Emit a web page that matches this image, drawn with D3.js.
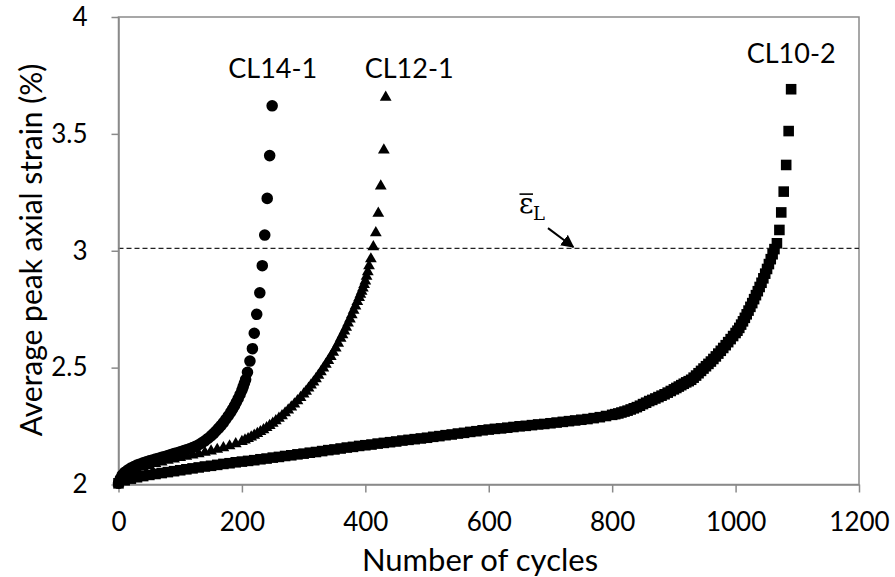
<!DOCTYPE html>
<html><head><meta charset="utf-8">
<script src="https://cdn.jsdelivr.net/npm/d3@7"></script>
<style>body{margin:0;background:#fff}</style>
</head><body>
<svg id="c" width="895" height="577"></svg>
<script>
// ---------- data ----------
const xTicks = [0, 200, 400, 600, 800, 1000, 1200];
const yTicks = [2, 2.5, 3, 3.5, 4];
const xTitle = "Number of cycles";
const yTitle = "Average peak axial strain (%)";
const thresholdValue = 3.01;

const cl14Cycles = [0,3,6,10,15,20,25,30,35,40,45,50,55,60,65,70,75,80,85,90,95,100,105,110,115,120,125,130,135,140,145,150,154,158,162,166,170,174,178,182,185,188,191,194,197,200,202,204,206,209,213,217,220,224,229,233,237,241,245,249];
const cl14Strain = [2.005,2.025,2.04,2.052,2.062,2.07,2.077,2.083,2.088,2.093,2.097,2.101,2.105,2.109,2.112,2.116,2.12,2.124,2.128,2.132,2.136,2.14,2.144,2.149,2.153,2.158,2.163,2.17,2.178,2.187,2.197,2.208,2.218,2.229,2.24,2.252,2.265,2.279,2.294,2.31,2.323,2.337,2.352,2.368,2.385,2.403,2.418,2.433,2.449,2.48,2.528,2.581,2.647,2.728,2.82,2.936,3.067,3.224,3.407,3.62];

const cl12Cycles = [0,5,10,20,30,40,50,60,70,80,90,100,110,120,130,140,150,160,170,180,190,200,205,210,215,220,225,230,235,240,245,250,255,260,265,270,275,280,285,290,295,300,304,308,312,316,320,324,328,332,336,340,344,348,352,356,360,363,366,369,372,375,378,381,384,387,390,392,394,396,398,400,402,404,406,409,413,417,421,425,430,433];
const cl12Strain = [2.005,2.025,2.038,2.052,2.063,2.073,2.081,2.089,2.096,2.103,2.109,2.115,2.12,2.126,2.131,2.137,2.143,2.15,2.157,2.165,2.174,2.184,2.19,2.196,2.203,2.21,2.218,2.226,2.234,2.243,2.252,2.262,2.272,2.283,2.294,2.306,2.318,2.331,2.344,2.358,2.372,2.387,2.399,2.412,2.425,2.438,2.452,2.467,2.482,2.498,2.514,2.53,2.547,2.565,2.584,2.604,2.625,2.64,2.656,2.672,2.69,2.708,2.726,2.745,2.763,2.782,2.8,2.813,2.826,2.84,2.855,2.87,2.89,2.91,2.935,2.965,3.017,3.077,3.16,3.277,3.431,3.656];

const cl10Cycles = [0,10,20,30,40,50,60,70,80,90,100,110,120,130,140,150,160,170,180,190,200,210,220,230,240,250,260,270,280,290,300,310,320,330,340,350,360,370,380,390,400,410,420,430,440,450,460,470,480,490,500,510,520,530,540,550,560,570,580,590,600,610,620,630,640,650,660,670,680,690,700,710,720,730,740,750,760,770,780,790,800,805,810,815,820,825,830,835,840,845,850,855,860,865,870,875,880,885,890,895,900,904,908,912,916,920,924,928,932,936,940,944,948,952,956,960,964,968,972,976,980,984,988,992,996,1000,1003,1006,1009,1012,1015,1018,1021,1024,1027,1030,1033,1036,1039,1042,1045,1048,1051,1054,1057,1060,1063,1067,1071,1074,1078,1082,1086,1090];
const cl10Strain = [2.005,2.018,2.025,2.031,2.036,2.041,2.045,2.049,2.053,2.057,2.061,2.065,2.069,2.073,2.077,2.08,2.084,2.088,2.091,2.095,2.098,2.101,2.104,2.108,2.111,2.115,2.118,2.122,2.125,2.129,2.132,2.136,2.139,2.143,2.147,2.15,2.154,2.158,2.161,2.165,2.168,2.171,2.175,2.178,2.181,2.184,2.188,2.191,2.194,2.197,2.2,2.204,2.207,2.211,2.214,2.218,2.221,2.225,2.228,2.232,2.235,2.238,2.24,2.243,2.246,2.249,2.251,2.254,2.257,2.259,2.262,2.265,2.268,2.271,2.274,2.277,2.28,2.284,2.288,2.293,2.298,2.301,2.304,2.308,2.312,2.316,2.321,2.326,2.331,2.337,2.344,2.35,2.357,2.362,2.368,2.374,2.38,2.386,2.393,2.4,2.407,2.413,2.419,2.425,2.431,2.437,2.442,2.448,2.457,2.466,2.476,2.486,2.496,2.506,2.516,2.526,2.537,2.548,2.56,2.572,2.584,2.596,2.609,2.622,2.635,2.648,2.658,2.67,2.684,2.698,2.713,2.728,2.744,2.76,2.776,2.793,2.81,2.827,2.845,2.863,2.882,2.902,2.922,2.943,2.964,2.985,3.007,3.032,3.089,3.164,3.253,3.367,3.512,3.691];

const seriesNames = ["CL14-1", "CL12-1", "CL10-2"];
const seriesMarkers = ["circle", "triangle", "square"];
const labelCycles = [250, 471, 1090];
const labelStrain = [3.739, 3.739, 3.803];

// annotation (epsilon_L with arrow), in data units
const epsLabelAt = [649, 3.161];
const arrowFrom = [696, 3.097];
const arrowTo = [737, 3.016];

// ---------- layout ----------
const M = {left: 118.5, right: 859, top: 17, bottom: 484.5};
const svg = d3.select("#c");
const x = d3.scaleLinear().domain([0, 1200]).range([M.left, M.right]);
const y = d3.scaleLinear().domain([2, 4]).range([M.bottom, M.top]);
const axisColor = "#8a8a8a";
const font = "Lato, 'Open Sans', sans-serif";

// plot border
svg.append("rect").attr("x", M.left).attr("y", M.top)
  .attr("width", M.right - M.left).attr("height", M.bottom - M.top)
  .attr("fill", "none").attr("stroke", axisColor).attr("stroke-width", 1.5);

// threshold line
svg.append("line").attr("x1", x(0)).attr("x2", x(1200))
  .attr("y1", y(thresholdValue)).attr("y2", y(thresholdValue))
  .attr("stroke", "#222").attr("stroke-width", 1.2).attr("stroke-dasharray", "5,3");

// axes
const gx = svg.append("g").attr("transform", `translate(0,${M.bottom})`)
  .call(d3.axisBottom(x).tickValues(xTicks).tickSizeInner(8).tickSizeOuter(0).tickPadding(20).tickFormat(d3.format("d")));
const gy = svg.append("g").attr("transform", `translate(${M.left},0)`)
  .call(d3.axisLeft(y).tickValues(yTicks).tickSizeInner(7).tickSizeOuter(0).tickPadding(24).tickFormat(d => String(d)));
[gx, gy].forEach(g => {
  g.select(".domain").attr("stroke", axisColor).attr("stroke-width", 1.5);
  g.selectAll(".tick line").attr("stroke", axisColor).attr("stroke-width", 1.5);
  g.selectAll(".tick text").attr("fill", "#000").style("font-family", font).style("font-size", "26px");
});

// axis titles
svg.append("text").attr("x", 480).attr("y", 571)
  .attr("text-anchor", "middle").style("font-family", font).style("font-size", "31px").text(xTitle);
svg.append("text").attr("transform", `translate(42,250) rotate(-90)`)
  .attr("text-anchor", "middle").style("font-family", font).style("font-size", "30px").text(yTitle);

// series
const data = [
  cl14Cycles.map((c, i) => [c, cl14Strain[i]]),
  cl12Cycles.map((c, i) => [c, cl12Strain[i]]),
  cl10Cycles.map((c, i) => [c, cl10Strain[i]])
];
const symType = {circle: d3.symbolCircle, triangle: d3.symbolTriangle, square: d3.symbolSquare};
const symSize = {circle: 105, triangle: 60, square: 112};
data.forEach((pts, si) => {
  const m = seriesMarkers[si];
  const sym = d3.symbol().type(symType[m]).size(symSize[m]);
  svg.append("g").selectAll("path").data(pts).join("path")
    .attr("transform", d => `translate(${x(d[0])},${y(d[1])})`)
    .attr("d", sym).attr("fill", "#000");
  svg.append("text").attr("x", x(labelCycles[si])).attr("y", y(labelStrain[si]))
    .attr("text-anchor", "middle").style("font-family", font).style("font-size", "27px")
    .text(seriesNames[si]);
});

// epsilon label
const eg = svg.append("g").attr("transform", `translate(${x(epsLabelAt[0])},${y(epsLabelAt[1])})`);
eg.append("text").attr("x", 0).attr("y", 0).style("font-family", "'DejaVu Serif', serif").style("font-size", "28px").text("ε");
eg.append("line").attr("x1", 0.5).attr("x2", 14).attr("y1", -19).attr("y2", -19).attr("stroke", "#000").attr("stroke-width", 1.6);
eg.append("text").attr("x", 14).attr("y", 7).style("font-family", "'DejaVu Serif', serif").style("font-size", "18px").text("L");

// arrow
svg.append("defs").append("marker").attr("id", "ah").attr("viewBox", "0 0 10 10")
  .attr("refX", 9).attr("refY", 5).attr("markerWidth", 6.5).attr("markerHeight", 6.5)
  .attr("orient", "auto")
  .append("path").attr("d", "M0,0 L10,5 L0,10 z").attr("fill", "#000");
svg.append("line").attr("x1", x(arrowFrom[0])).attr("y1", y(arrowFrom[1]))
  .attr("x2", x(arrowTo[0])).attr("y2", y(arrowTo[1]))
  .attr("stroke", "#000").attr("stroke-width", 2).attr("marker-end", "url(#ah)");
</script>
</body></html>
